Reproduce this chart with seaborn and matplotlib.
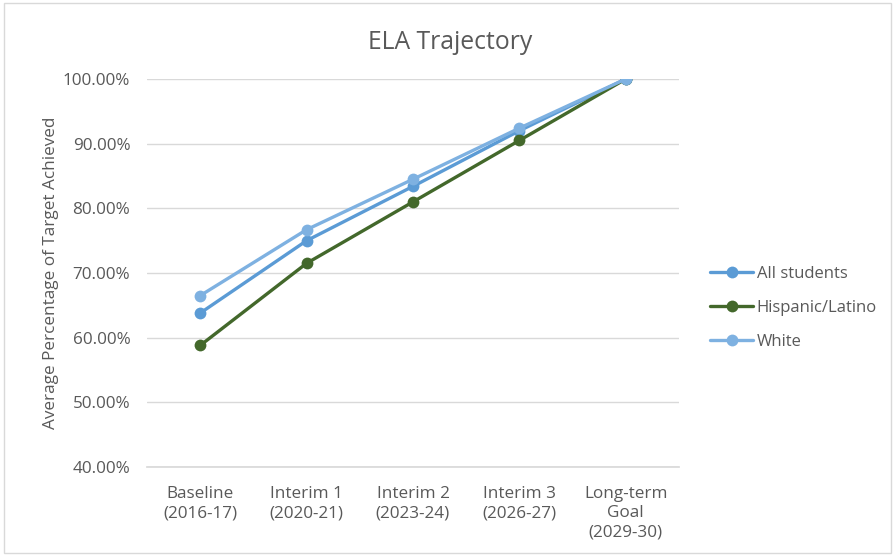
import matplotlib.pyplot as plt
import pandas as pd
import seaborn as sns
from matplotlib.ticker import PercentFormatter

sns.set_theme(style="white")
plt.rcParams["font.family"] = ["Open Sans", "DejaVu Sans"]

stages = [
    "Baseline\n(2016-17)",
    "Interim 1\n(2020-21)",
    "Interim 2\n(2023-24)",
    "Interim 3\n(2026-27)",
    "Long-term\nGoal\n(2029-30)",
]
all_students = [63.8, 75.0, 83.4, 92.0, 100.0]
hispanic_latino = [58.8, 71.5, 81.0, 90.5, 100.0]
white = [66.5, 76.7, 84.5, 92.4, 100.0]

groups = ["All students", "Hispanic/Latino", "White"]
colors = ["#5B9BD5", "#43682B", "#7EB1E1"]

df = pd.DataFrame({
    "stage": stages * 3,
    "value": all_students + hispanic_latino + white,
    "group": [g for g in groups for _ in stages],
})

text_color = "#595959"

fig = plt.figure(figsize=(8.95, 5.56), dpi=100)
ax = fig.add_axes([147 / 895, 1 - 467 / 556, (679 - 147) / 895, (467 - 79) / 556])

sns.lineplot(
    data=df, x="stage", y="value", hue="group", hue_order=groups,
    palette=colors, marker="o", markersize=8.5, markeredgewidth=0,
    linewidth=2.4, sort=False, ax=ax,
)

ax.set_xlim(-0.5, len(stages) - 0.5)
ax.set_ylim(40, 100)
ax.set_yticks(range(40, 101, 10))
ax.yaxis.set_major_formatter(PercentFormatter(decimals=2))
ax.grid(axis="y", color="#D9D9D9", linewidth=1)
ax.set_axisbelow(True)
for side in ["left", "right", "top"]:
    ax.spines[side].set_visible(False)
ax.spines["bottom"].set_color("#D9D9D9")
ax.tick_params(axis="y", colors=text_color, labelsize=12.3, length=0, pad=12)
ax.tick_params(axis="x", colors=text_color, labelsize=12.3, length=0, pad=14)
for lbl in ax.get_xticklabels():
    lbl.set_linespacing(1.25)

ax.set_xlabel("")
ax.set_ylabel("Average Percentage of Target Achieved", color=text_color, fontsize=12.3, labelpad=3)
fig.suptitle("ELA Trajectory", x=450 / 895, y=1 - 30 / 556,
             fontsize=17.8, color=text_color)

leg = ax.legend(
    loc="center left", bbox_to_anchor=(1.03, 0.41), frameon=False,
    fontsize=12, labelcolor=text_color, handlelength=2.6, handletextpad=0.2,
    labelspacing=1.08,
)

border = plt.Rectangle((0.005, 0.005), 0.99, 0.99, transform=fig.transFigure,
                       fill=False, edgecolor="#D9D9D9", linewidth=1)
fig.patches.append(border)

fig.savefig("out.png", dpi=100)
